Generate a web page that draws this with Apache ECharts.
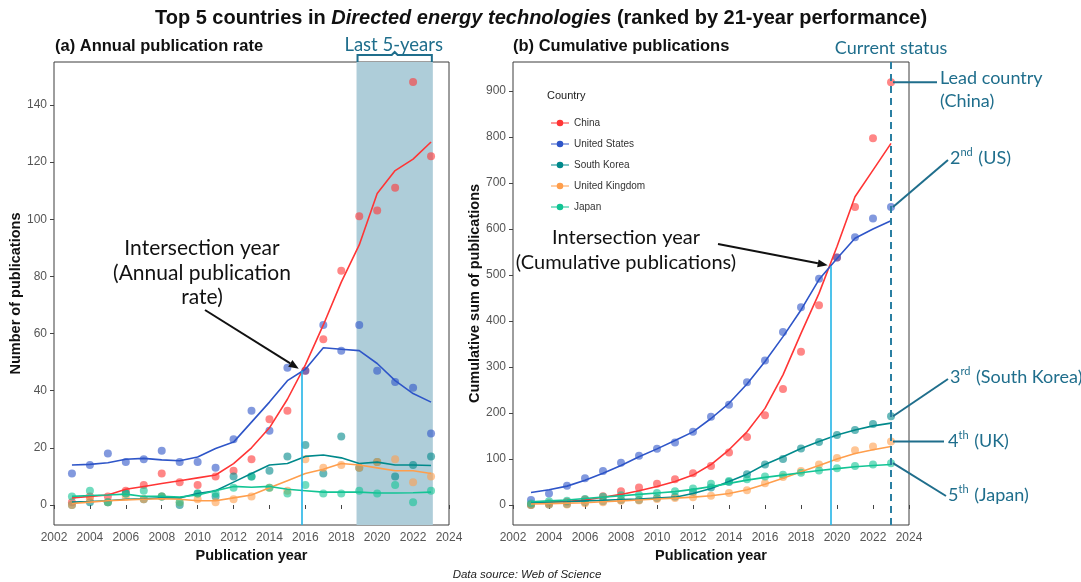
<!DOCTYPE html>
<html><head><meta charset="utf-8">
<script src="https://cdn.jsdelivr.net/npm/echarts@6/dist/echarts.min.js"></script>
<style>html,body{margin:0;padding:0;background:#fff}#c{width:1081px;height:582px}</style>
</head><body><div id="c"></div>
<script>
// ---------- DATA ----------
const years = [2003,2004,2005,2006,2007,2008,2009,2010,2011,2012,2013,2014,2015,2016,2017,2018,2019,2020,2021,2022,2023];
const countries = ['China','United States','South Korea','United Kingdom','Japan'];

// (a) annual publications (points)
const annChina  = [1,3,3,5,7,11,8,7,10,12,16,30,33,47,58,82,101,103,111,148,122];
const annUS     = [11,14,18,15,16,19,15,15,13,23,33,26,48,47,63,54,63,47,43,41,25];
const annKorea  = [0,1,1,4,2,3,0,4,3,10,10,12,17,21,11,24,13,15,10,14,17];
const annUK     = [0,2,1,3,2,3,1,2,1,2,3,6,5,16,13,14,13,15,16,8,10];
const annJapan  = [3,5,1,4,5,3,1,4,4,6,10,6,4,7,4,4,5,4,7,1,5];
// (a) smoothed trend lines
const fitChina  = [2.5,3,3.5,5.5,6.5,7.5,8.5,9.5,10.5,14.5,20,27,37,49,63,78,91,109,117,121,127];
const fitUS     = [14,14.2,14.8,16,16.3,15.8,15.5,16.8,19.8,22,29,36,43.5,47.5,55,54.5,54,49.5,43.5,39,36];
const fitKorea  = [1,1.2,1.5,2,2.2,2.5,2.5,4,5,8,11,14,14.5,17,17.5,16.5,14.5,15,14,14,13.8];
const fitUK     = [0.5,1,1.5,1.8,2,2.2,2,1.5,1.5,2.5,3.5,6,8.5,11,12.5,14.5,14,13,12,12,11];
const fitJapan  = [3,3.3,3.5,3.8,3,3,2.8,3.5,5,6.5,6.2,6.5,5.5,5,4.5,4.5,4.5,4.2,4.2,4.3,4.5];

// (b) cumulative publications (points)
const cumChina  = [1,4,7,12,19,30,38,46,56,69,85,114,148,195,252,333,434,538,648,797,919];
const cumUS     = [11,25,42,58,74,92,107,122,136,159,192,218,267,314,376,430,492,538,582,623,648];
const cumKorea  = [0,1,2,6,8,11,11,15,18,28,38,50,67,88,100,123,137,152,163,176,193];
const cumUK     = [0,1,1,4,6,9,10,13,15,17,20,26,32,47,61,74,88,102,119,127,138];
const cumJapan  = [3,8,9,13,18,21,22,26,30,36,46,52,56,62,66,70,75,80,85,88,91];
// (b) smoothed trend lines
const cfitChina = [5,6.5,8,11,17,23,31,40,51,65,88,120,159,210,283,373,460,562,670,728,786];
const cfitUS    = [27,33,41,54,69,86,105,122,140,159,188,221,263,312,366,424,490,536,580,600,618];
const cfitKorea = [5,6,7,9,10,12,13,15,17,25,36,51,67,88,105,123,138,152,163,172,178];
const cfitUK    = [2,3,4,5,7,9,11,13,15,17,20,25,33,45,58,72,86,100,112,120,127];
const cfitJapan = [7,9,11,14,17,20,23,26,29,34,40,47,54,60,65,70,75,79,83,86,88];

// axis ticks
const xTicks = [2002,2004,2006,2008,2010,2012,2014,2016,2018,2020,2022,2024];
const yTicksA = [0,20,40,60,80,100,120,140];
const yTicksB = [0,100,200,300,400,500,600,700,800,900];

// annotation values
const lastFiveYears = [2018.85, 2023.1];
const interA = [2015.8, 47];
const interB = [2019.65, 519];
const currentYear = 2023;

// ---------- STYLE ----------
const colors = ['#FF3535','#2E55C8','#00898B','#FF9E4C','#12C494'];
const teal = '#1F6E8C';
const FONT = 'Liberation Sans';
const ANN = 'Lato';

const pair = arr => years.map((y,i)=>[y, arr[i]]);
const ann = [annChina,annUS,annKorea,annUK,annJapan];
const fitA = [fitChina,fitUS,fitKorea,fitUK,fitJapan];
const cum = [cumChina,cumUS,cumKorea,cumUK,cumJapan];
const fitB = [cfitChina,cfitUS,cfitKorea,cfitUK,cfitJapan];

const chart = echarts.init(document.getElementById('c'), null, {renderer:'canvas'});

function xAxisCfg(g){
  return {gridIndex:g, type:'value', min:2002, max:2024, interval:2,
    axisLine:{show:false}, splitLine:{show:false},
    axisTick:{show:true, length:4, lineStyle:{color:'#444'}, customValues:xTicks},
    axisLabel:{color:'#555', fontSize:12, fontFamily:FONT, margin:7, customValues:xTicks, formatter:v=>String(v)},
    name:'Publication year', nameLocation:'middle', nameGap:18,
    nameTextStyle:{fontWeight:'bold', fontSize:14.5, color:'#111', fontFamily:FONT}};
}
function yAxisCfg(g, min, max, ticks, name, gap){
  return {gridIndex:g, type:'value', min:min, max:max,
    axisLine:{show:false}, splitLine:{show:false},
    axisTick:{show:true, length:4, lineStyle:{color:'#444'}, customValues:ticks},
    axisLabel:{color:'#555', fontSize:12, fontFamily:FONT, margin:7, customValues:ticks},
    name:name, nameLocation:'middle', nameGap:gap,
    nameTextStyle:{fontWeight:'bold', fontSize:14.5, color:'#111', fontFamily:FONT}};
}

const series = [];
series.push({type:'line', name:'_shade', xAxisIndex:0, yAxisIndex:0, data:[[2020,0]], symbol:'none', lineStyle:{opacity:0}, z:1, silent:true,
  markArea:{silent:true, itemStyle:{color:'#AECDD9', opacity:1}, data:[[{xAxis:lastFiveYears[0]},{xAxis:lastFiveYears[1]}]]}});
countries.forEach((c,i)=>{
  series.push({type:'scatter', name:c, xAxisIndex:0, yAxisIndex:0, data:pair(ann[i]), symbolSize:8,
    itemStyle:{color:colors[i], opacity:0.6}, z:3, silent:true});
  series.push({type:'scatter', name:c, xAxisIndex:1, yAxisIndex:1, data:pair(cum[i]), symbolSize:8,
    itemStyle:{color:colors[i], opacity:0.6}, z:3, silent:true});
});
countries.forEach((c,i)=>{
  series.push({type:'line', name:c, xAxisIndex:0, yAxisIndex:0, data:pair(fitA[i]), symbol:'none', showSymbol:false,
    lineStyle:{color:colors[i], width:1.6}, itemStyle:{color:colors[i]}, z:4, silent:true});
  series.push({type:'line', name:c, xAxisIndex:1, yAxisIndex:1, data:pair(fitB[i]), symbol:'none', showSymbol:false,
    lineStyle:{color:colors[i], width:1.6}, itemStyle:{color:colors[i]}, z:4, silent:true});
});
series.push({type:'line', name:'_va', xAxisIndex:0, yAxisIndex:0, data:[interA], symbol:'none', lineStyle:{opacity:0}, z:5, silent:true,
  markLine:{silent:true, symbol:'none', label:{show:false}, lineStyle:{color:'#22B4E6', width:1.6, type:'solid'},
    data:[[{coord:[interA[0],-7]},{coord:interA}]]}});
series.push({type:'line', name:'_vb', xAxisIndex:1, yAxisIndex:1, data:[interB], symbol:'none', lineStyle:{opacity:0}, z:5, silent:true,
  markLine:{silent:true, symbol:'none', label:{show:false},
    data:[
      [{coord:[interB[0],-43.5], lineStyle:{color:'#22B4E6', width:1.6, type:'solid'}},{coord:interB}],
      [{coord:[currentYear,-43.5], lineStyle:{color:'#2A7FA2', width:2, type:[7,5]}},{coord:[currentYear,963]}]
    ]}});

const legendIcon = 'path://M0,3 L18,3 L18,4 L0,4 Z M9,0.2 A3.3,3.3 0 1 1 8.99,0.2 Z';

chart.setOption({
  animation:false,
  backgroundColor:'#fff',
  textStyle:{fontFamily:FONT},
  grid:[
    {left:54, top:62, width:395, height:463, show:true, borderColor:'#3C3C3C', borderWidth:1, backgroundColor:'transparent'},
    {left:513, top:62, width:396, height:463, show:true, borderColor:'#3C3C3C', borderWidth:1, backgroundColor:'transparent'}
  ],
  xAxis:[xAxisCfg(0), xAxisCfg(1)],
  yAxis:[yAxisCfg(0,-7,155,yTicksA,'Number of publications',27), yAxisCfg(1,-43.5,963,yTicksB,'Cumulative sum of publications',25)],
  legend:{show:true, orient:'vertical', left:546, top:112, itemWidth:18, itemHeight:7, itemGap:9, selectedMode:false,
    textStyle:{fontSize:10, color:'#333', fontFamily:FONT, lineHeight:12},
    itemStyle:{borderWidth:0, opacity:1}, lineStyle:{width:0},
    data:countries.map((c,i)=>({name:c, icon:legendIcon, itemStyle:{color:colors[i], borderWidth:0, opacity:1}}))},
  series:series
});

// ---------- ANNOTATIONS ----------
function px(g, v){ return chart.convertToPixel({gridIndex:g}, v); }
function arrow(x1,y1,x2,y2){
  const a = Math.atan2(y2-y1, x2-x1), L = 10, W = 4;
  const bx = x2 - L*Math.cos(a), by = y2 - L*Math.sin(a);
  return [
    {type:'line', shape:{x1:x1,y1:y1,x2:bx,y2:by}, style:{stroke:'#111', lineWidth:2}, z:50},
    {type:'polygon', shape:{points:[[x2,y2],[bx - W*Math.sin(a), by + W*Math.cos(a)],[bx + W*Math.sin(a), by - W*Math.cos(a)]]}, style:{fill:'#111'}, z:50}
  ];
}
const g = [];
g.push({type:'text', style:{x:541, y:18, align:'center', verticalAlign:'middle',
  text:'{b|Top 5 countries in }{i|Directed energy technologies}{b| (ranked by 21-year performance)}',
  rich:{b:{fontFamily:FONT, fontWeight:'bold', fontSize:20, fill:'#111'}, i:{fontFamily:FONT, fontWeight:'bold', fontStyle:'italic', fontSize:20, fill:'#111'}}}});
g.push({type:'text', style:{x:55, y:46, verticalAlign:'middle', text:'(a) Annual publication rate', fontFamily:FONT, fontWeight:'bold', fontSize:16.5, fill:'#111'}});
g.push({type:'text', style:{x:513, y:46, verticalAlign:'middle', text:'(b) Cumulative publications', fontFamily:FONT, fontWeight:'bold', fontSize:16.5, fill:'#111'}});
g.push({type:'text', style:{x:527, y:575, align:'center', verticalAlign:'middle', text:'Data source: Web of Science', fontFamily:FONT, fontStyle:'italic', fontSize:11.5, fill:'#222'}});
g.push({type:'text', style:{x:547, y:96, verticalAlign:'middle', text:'Country', fontFamily:FONT, fontSize:11, fill:'#222'}});

const s0 = px(0,[lastFiveYears[0],155]), s1 = px(0,[lastFiveYears[1],155]);
const mid = (s0[0]+s1[0])/2;
g.push({type:'polyline', shape:{points:[[s0[0]+1,62],[s0[0]+1,55],[mid-3,55],[mid,52],[mid+3,55],[s1[0]-1,55],[s1[0]-1,62]]}, style:{stroke:teal, lineWidth:2, fill:null}, z:40});
g.push({type:'text', style:{x:mid-1, y:45, align:'center', verticalAlign:'middle', text:'Last 5-years', fontFamily:ANN, fontSize:18.5, fill:teal}});
const cs = px(1,[currentYear,963]);
g.push({type:'text', style:{x:cs[0], y:48, align:'center', verticalAlign:'middle', text:'Current status', fontFamily:ANN, fontSize:18, fill:teal}});

g.push({type:'text', style:{x:202, y:273, align:'center', verticalAlign:'middle', text:'Intersection year\n(Annual publication\nrate)', fontFamily:ANN, fontSize:21, lineHeight:24.5, fill:'#111'}});
const pA = px(0, interA);
arrow(205,310,pA[0]-3,pA[1]-2).forEach(e=>g.push(e));
g.push({type:'text', style:{x:626, y:250, align:'center', verticalAlign:'middle', text:'Intersection year\n(Cumulative publications)', fontFamily:ANN, fontSize:20, lineHeight:25, fill:'#111'}});
const pB = px(1, interB);
arrow(718,244,pB[0]-3,pB[1]-1).forEach(e=>g.push(e));

const ends = [[937,null],[948,160],[948,379],[944,null],[946,496]];
cum.forEach((arr,i)=>{
  const p = px(1,[currentYear, arr[arr.length-1]]);
  const ex = ends[i][0], ey = ends[i][1] === null ? p[1] : ends[i][1];
  g.push({type:'line', shape:{x1:p[0]+2, y1:p[1], x2:ex, y2:ey}, style:{stroke:'#1F6E8C', lineWidth:2}, z:40});
});
const sup = {fontFamily:ANN, fontSize:11, fill:teal, verticalAlign:'top', lineHeight:22, padding:[0,1,0,0]};
const nrm = {fontFamily:ANN, fontSize:18, fill:teal, lineHeight:22};
g.push({type:'text', style:{x:940, y:90, verticalAlign:'middle', text:'Lead country\n(China)', fontFamily:ANN, fontSize:18, lineHeight:23, fill:teal}});
g.push({type:'text', style:{x:950, y:158, verticalAlign:'middle', text:'{n|2}{s|nd}{n| (US)}', rich:{n:nrm, s:sup}}});
g.push({type:'text', style:{x:950, y:377, verticalAlign:'middle', text:'{n|3}{s|rd}{n| (South Korea)}', rich:{n:nrm, s:sup}}});
g.push({type:'text', style:{x:948, y:441, verticalAlign:'middle', text:'{n|4}{s|th}{n| (UK)}', rich:{n:nrm, s:sup}}});
g.push({type:'text', style:{x:948, y:495, verticalAlign:'middle', text:'{n|5}{s|th}{n| (Japan)}', rich:{n:nrm, s:sup}}});

chart.setOption({graphic:{elements:g}});
</script></body></html>
